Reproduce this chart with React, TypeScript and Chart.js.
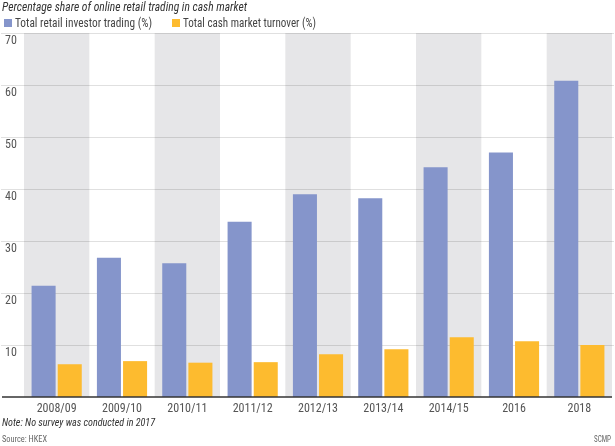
import React, { useEffect, useRef } from 'react';
import { Chart, registerables } from 'chart.js';

Chart.register(...registerables);

const categories = ['2008/09', '2009/10', '2010/11', '2011/12', '2012/13', '2013/14', '2014/15', '2016', '2018'];
const retailInvestorTrading = [21.4, 26.8, 25.7, 33.7, 39.0, 38.2, 44.2, 47.0, 60.8];
const cashMarketTurnover = [6.3, 6.9, 6.6, 6.7, 8.2, 9.2, 11.5, 10.7, 10.0];
const yTicks = [10, 20, 30, 40, 50, 60, 70];
const seriesNames = ['Total retail investor trading (%)', 'Total cash market turnover (%)'];
const seriesColors = ['#8595cb', '#fdbb2f'];
const titleText = 'Percentage share of online retail trading in cash market';
const noteText = 'Note: No survey was conducted in 2017';
const sourceText = 'Source: HKEX';
const creditText = 'SCMP';

const FONT = '"Liberation Sans Narrow", "Roboto Condensed", "Liberation Sans", Roboto, sans-serif';

const decorPlugin = {
  id: 'decor',
  beforeDatasetsDraw(chart: any) {
    const { ctx, chartArea, scales } = chart;
    const x = scales.x;
    const y = scales.y;
    const W = chart.width;
    ctx.save();
    const n = categories.length;
    const catW = (chartArea.right - chartArea.left) / n;
    categories.forEach((_, i) => {
      if (i % 2 === 0) {
        const cx = x.getPixelForValue(i);
        ctx.fillStyle = '#e6e6e8';
        ctx.fillRect(cx - catW / 2, chartArea.top, catW, chartArea.bottom - chartArea.top);
      }
    });
    ctx.strokeStyle = 'rgba(0,0,0,0.12)';
    ctx.lineWidth = 1;
    yTicks.forEach((v) => {
      const py = Math.round(y.getPixelForValue(v)) + 0.5;
      ctx.beginPath();
      ctx.moveTo(1, py);
      ctx.lineTo(W - 1, py);
      ctx.stroke();
    });
    ctx.fillStyle = '#555';
    ctx.font = '12px ' + FONT;
    ctx.textAlign = 'left';
    ctx.textBaseline = 'middle';
    yTicks.forEach((v) => {
      const py = y.getPixelForValue(v);
      ctx.fillText(String(v), 5, py + 8);
    });
    ctx.restore();
  },
  afterDatasetsDraw(chart: any) {
    const { ctx, scales } = chart;
    const x = scales.x;
    const y = scales.y;
    const W = chart.width;
    ctx.save();
    const by = y.getPixelForValue(0);
    ctx.strokeStyle = '#333';
    ctx.lineWidth = 1.6;
    ctx.beginPath();
    ctx.moveTo(2, by);
    ctx.lineTo(W - 3, by);
    ctx.stroke();
    ctx.fillStyle = '#555';
    ctx.font = '12px ' + FONT;
    ctx.textAlign = 'center';
    ctx.textBaseline = 'middle';
    categories.forEach((c, i) => {
      ctx.fillText(c, x.getPixelForValue(i), 409, 40);
    });
    ctx.textAlign = 'left';
    ctx.fillStyle = '#333';
    ctx.font = 'italic 12.5px ' + FONT;
    ctx.fillText(titleText, 2, 8, 245);
    ctx.font = '12px ' + FONT;
    const legendWidths = [137, 133];
    const legendX = [4, 172];
    seriesNames.forEach((name, i) => {
      ctx.fillStyle = seriesColors[i];
      ctx.fillRect(legendX[i], 19, 8, 8);
      ctx.fillStyle = '#444';
      ctx.fillText(name, legendX[i] + 11, 23.5, legendWidths[i]);
    });
    ctx.fillStyle = '#333';
    ctx.font = 'italic 11.5px ' + FONT;
    ctx.fillText(noteText, 2, 423, 153);
    ctx.fillStyle = '#666';
    ctx.font = '9.5px ' + FONT;
    ctx.fillText(sourceText, 2, 440, 45);
    ctx.textAlign = 'right';
    ctx.fillText(creditText, W - 4, 440, 17);
    ctx.restore();
  },
};

export default function App() {
  const ref = useRef<HTMLCanvasElement>(null);
  useEffect(() => {
    if (!ref.current) return;
    const chart = new Chart(ref.current, {
      type: 'bar',
      data: {
        labels: categories,
        datasets: [
          {
            label: seriesNames[0],
            data: retailInvestorTrading,
            backgroundColor: seriesColors[0],
            categoryPercentage: 0.8,
            barPercentage: 0.92,
          },
          {
            label: seriesNames[1],
            data: cashMarketTurnover,
            backgroundColor: seriesColors[1],
            categoryPercentage: 0.8,
            barPercentage: 0.92,
          },
        ],
      },
      options: {
        responsive: false,
        animation: false,
        devicePixelRatio: 1,
        layout: { padding: { left: 24, right: 3, top: 33, bottom: 49 } },
        plugins: {
          legend: { display: false },
          title: { display: false },
          tooltip: { enabled: false },
        },
        scales: {
          x: { display: false },
          y: { display: false, min: 0, max: 70 },
        },
      },
      plugins: [decorPlugin],
    });
    return () => chart.destroy();
  }, []);
  return (
    <div style={{ position: 'fixed', left: 0, top: 0, width: 615, height: 446, background: '#fff' }}>
      <canvas ref={ref} width={615} height={446} style={{ width: 615, height: 446 }} />
    </div>
  );
}
